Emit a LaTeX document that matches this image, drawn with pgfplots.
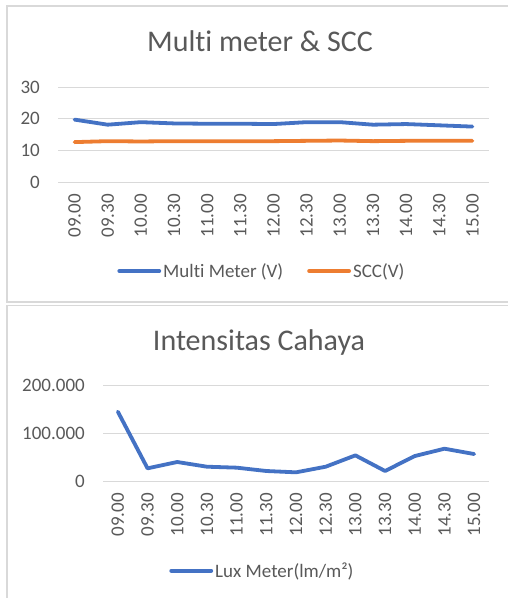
\documentclass[border=0pt]{standalone}
\usepackage{pgfplots}
\pgfplotsset{compat=1.18}
\usepackage{fontspec}
\setmainfont{Carlito}[Ligatures={NoCommon}]
\definecolor{xlblue}{HTML}{4472C4}
\definecolor{xlorange}{HTML}{ED7D31}
\definecolor{xltext}{HTML}{595959}
\definecolor{xlgrid}{HTML}{D9D9D9}
\pgfplotsset{
  xlstyle/.style={
    scale only axis,
    axis line style={draw=none},
    major tick length=0pt,
    ymajorgrids,
    major grid style={draw=xlgrid, line width=1pt},
    clip=false,
    xmin=-0.5, xmax=12.5,
    xtick={0,...,12},
    xticklabels={09.00,09.30,10.00,10.30,11.00,11.30,12.00,12.30,13.00,13.30,14.00,14.30,15.00},
    xticklabel shift=12pt,
    yticklabel shift=18pt,
    xticklabel style={rotate=90, anchor=east, inner sep=0pt, font=\fontsize{19}{21}\selectfont, text=xltext},
    yticklabel style={anchor=east, inner sep=0pt, font=\fontsize{19}{21}\selectfont, text=xltext},
    /pgf/number format/assume math mode=true,
    scaled ticks=false,
    legend columns=2,
    legend cell align=left,
    legend style={draw=none, fill=none, font=\fontsize{19}{21}\selectfont, text=xltext, inner sep=0pt,
      nodes={inner sep=2pt},
      /tikz/every even column/.append style={column sep=22pt}},
    legend image code/.code={\draw[#1, mark=none, line cap=round] (0pt,0pt) -- (40pt,0pt);},
  }
}
\begin{document}
\begin{tikzpicture}[x=1pt,y=1pt]
\useasboundingbox (0,0) rectangle (507,-598);
\fill[white] (0,0) rectangle (507,-598);
\draw[xlgrid, line width=1.6pt] (7,-6) rectangle (515,-302);
\draw[xlgrid, line width=1.6pt] (7,-305.5) rectangle (515,-605);
\node[anchor=base, text=xltext, font=\fontsize{30}{32}\selectfont] at (260,-51) {Multi meter \& SCC};
\node[anchor=base, text=xltext, font=\fontsize{30}{32}\selectfont] at (259,-350) {Intensitas Cahaya};

\begin{axis}[xlstyle,
  at={(58pt,-182pt)}, anchor=south west,
  width=431pt, height=95pt,
  ymin=0, ymax=30, ytick={0,10,20,30}, yticklabels={0,10,20,30},
  legend style={at={(0.473,-0.937)}, anchor=center},
]
\addplot[xlblue, line width=3.8pt, line join=round, line cap=round] coordinates {
(0,19.7) (1,18.1) (2,18.9) (3,18.5) (4,18.4) (5,18.4) (6,18.3) (7,18.9) (8,18.9) (9,18.1) (10,18.3) (11,17.9) (12,17.5)};
\addlegendentry{Multi Meter (V)}
\addplot[xlorange, line width=3.8pt, line join=round, line cap=round] coordinates {
(0,12.6) (1,12.9) (2,12.8) (3,12.9) (4,12.9) (5,12.9) (6,12.9) (7,13.0) (8,13.1) (9,12.9) (10,13.0) (11,13.0) (12,13.0)};
\addlegendentry{SCC(V)}
\end{axis}

\begin{axis}[xlstyle,
  at={(103pt,-481pt)}, anchor=south west,
  width=386pt, height=95.3pt,
  ymin=0, ymax=200000, ytick={0,100000,200000}, yticklabels={0,100.000,200.000},
  legend style={at={(0.413,-0.941)}, anchor=center},
]
\addplot[xlblue, line width=3.8pt, line join=round, line cap=round] coordinates {
(0,145500) (1,26600) (2,39900) (3,30000) (4,28000) (5,21000) (6,18200) (7,30000) (8,53800) (9,21000) (10,52400) (11,67800) (12,56600)};
\addlegendentry{Lux Meter(lm/m²)}
\end{axis}
\end{tikzpicture}
\end{document}
